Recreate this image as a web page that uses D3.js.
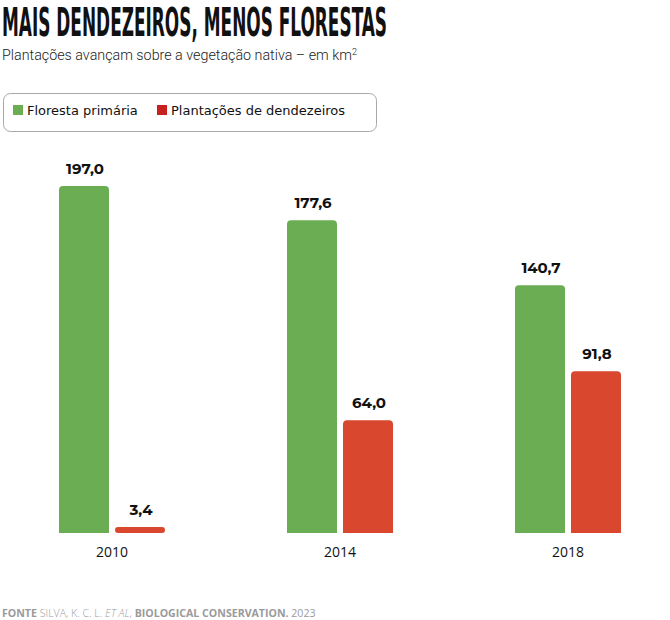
<!DOCTYPE html>
<html>
<head>
<meta charset="utf-8">
<script src="https://cdn.jsdelivr.net/npm/d3@7"></script>
<style>
  body { margin: 0; background: #fff; }
  svg { display: block; }
</style>
</head>
<body>
<div id="chart"></div>
<script>
const years = ["2010", "2014", "2018"];
const seriesNames = ["Floresta primária", "Plantações de dendezeiros"];
const floresta = [197.0, 177.6, 140.7];
const plantacoes = [3.4, 64.0, 91.8];

const width = 670, height = 620;
const baseline = 533;

const barColor = ["#6aad52", "#d9472f"];
const legendColor = ["#6aad52", "#c8201e"];

const fmt = v => d3.format(".1f")(v).replace(".", ",");

const svg = d3.select("#chart").append("svg")
    .attr("width", width)
    .attr("height", height);

// Title (condensed, stretched vertically)
svg.append("text")
    .attr("transform", "translate(2,36) scale(1,1.2)")
    .attr("textLength", 385)
    .attr("lengthAdjust", "spacingAndGlyphs")
    .style("font-family", "'Liberation Sans Narrow', 'DejaVu Sans Condensed', sans-serif")
    .style("font-weight", "bold")
    .style("font-size", "32px")
    .attr("fill", "#111")
    .text("MAIS DENDEZEIROS, MENOS FLORESTAS");

// Subtitle
const sub = svg.append("text")
    .attr("x", 2)
    .attr("y", 60)
    .style("font-family", "Roboto, sans-serif")
    .style("font-weight", 300)
    .style("font-size", "14.3px")
    .attr("fill", "#222");
sub.append("tspan").text("Plantações avançam sobre a vegetação nativa – em km");
sub.append("tspan").attr("dy", -5).style("font-size", "9px").text("2");

// Legend
svg.append("rect")
    .attr("x", 3.5).attr("y", 93.5)
    .attr("width", 373).attr("height", 38)
    .attr("rx", 7)
    .attr("fill", "none")
    .attr("stroke", "#a8a8a8")
    .attr("stroke-width", 1);

const legendX = [13, 157];
const legend = svg.selectAll(".legend")
  .data(seriesNames)
  .join("g")
    .attr("class", "legend")
    .attr("transform", (d, i) => `translate(${legendX[i]},105)`);
legend.append("rect")
    .attr("width", 10).attr("height", 10)
    .attr("fill", (d, i) => legendColor[i]);
legend.append("text")
    .attr("x", 14).attr("y", 10)
    .style("font-family", "'DejaVu Sans', sans-serif")
    .style("font-size", "13px")
    .attr("fill", "#111")
    .text(d => d);

// Scales
const y = d3.scaleLinear().domain([0, 197]).range([baseline, 186]);

const x0 = d3.scaleBand()
    .domain(years)
    .range([59, 621])
    .paddingInner(0.535)
    .paddingOuter(0);

const x1 = d3.scaleBand()
    .domain(d3.range(seriesNames.length))
    .range([0, x0.bandwidth()])
    .paddingInner(0.107);

const data = years.map((yr, i) => ({year: yr, values: [floresta[i], plantacoes[i]]}));

const groups = svg.selectAll(".group")
  .data(data)
  .join("g")
    .attr("class", "group")
    .attr("transform", d => `translate(${x0(d.year)},0)`);

// Bars with rounded tops
function barPath(x, top, w, bottom) {
  const r = Math.min(4, (bottom - top) / 2, w / 2);
  return `M${x},${bottom}V${top + r}Q${x},${top} ${x + r},${top}H${x + w - r}Q${x + w},${top} ${x + w},${top + r}V${bottom}Z`;
}

groups.selectAll(".bar")
  .data(d => d.values.map((v, i) => ({v, i})))
  .join("path")
    .attr("class", "bar")
    .attr("fill", d => barColor[d.i])
    .attr("d", d => {
      const x = x1(d.i), w = x1.bandwidth(), top = y(d.v);
      const h = baseline - top;
      if (h < 10) {
        // thin pill for tiny values
        const r = h / 2;
        return `M${x + r},${top}H${x + w - r}A${r},${r} 0 0 1 ${x + w - r},${baseline}H${x + r}A${r},${r} 0 0 1 ${x + r},${top}Z`;
      }
      return barPath(x, top, w, baseline);
    });

groups.selectAll(".value")
  .data(d => d.values.map((v, i) => ({v, i})))
  .join("text")
    .attr("class", "value")
    .attr("x", d => x1(d.i) + x1.bandwidth() / 2 + 1)
    .attr("y", d => y(d.v) - 12)
    .attr("text-anchor", "middle")
    .style("font-family", "Montserrat, 'Open Sans', sans-serif")
    .style("font-weight", "bold")
    .style("font-size", "15px")
    .attr("fill", "#111")
    .text(d => fmt(d.v));

// Year labels
groups.append("text")
    .attr("x", x0.bandwidth() / 2)
    .attr("y", 557)
    .attr("text-anchor", "middle")
    .style("font-family", "'Open Sans', sans-serif")
    .style("font-size", "14px")
    .attr("fill", "#111")
    .text(d => d.year);

// Footer
const foot = svg.append("text")
    .attr("x", 2)
    .attr("y", 617)
    .style("font-family", "'Open Sans', sans-serif")
    .style("font-size", "10.6px")
    .attr("fill", "#9a9a9a");
foot.append("tspan").style("font-weight", "bold").text("FONTE ");
foot.append("tspan").style("font-weight", 300).text("SILVA, K. C. L. ");
foot.append("tspan").style("font-style", "italic").style("font-weight", 300).text("ET AL");
foot.append("tspan").style("font-weight", 300).text(", ");
foot.append("tspan").style("font-weight", "bold").text("BIOLOGICAL CONSERVATION. ");
foot.append("tspan").text("2023");
</script>
</body>
</html>
